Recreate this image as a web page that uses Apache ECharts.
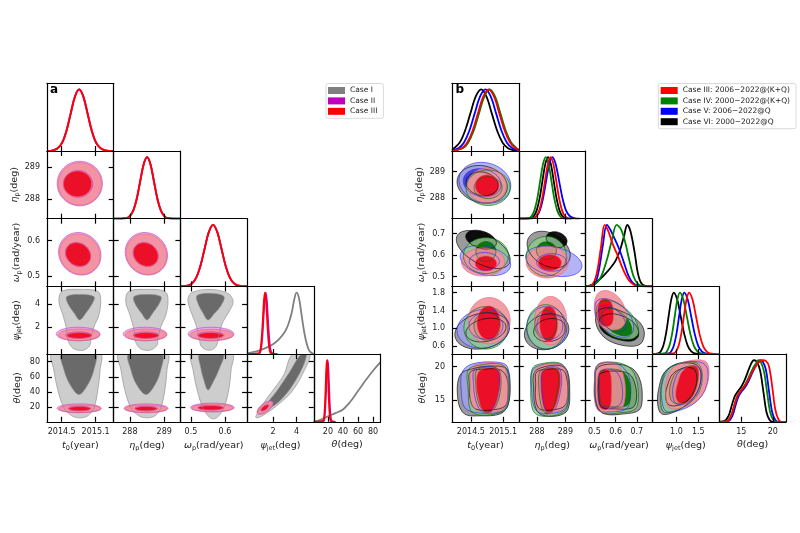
<!DOCTYPE html>
<html><head><meta charset="utf-8">
<script src="https://cdn.jsdelivr.net/npm/echarts@6/dist/echarts.min.js"></script>
<style>html,body{margin:0;padding:0;background:#fff}#c{width:800px;height:533px}</style>
</head><body><div id="c"></div>
<script>
// ---------------- names / ticks / ranges ----------------
const CASE_NAMES = {A1:'Case I',A2:'Case II',A3:'Case III',
  B3:'Case III: 2006\u22122022@(K+Q)',B4:'Case IV: 2000\u22122022@(K+Q)',B5:'Case V: 2006\u22122022@Q',B6:'Case VI: 2000\u22122022@Q'};
const TITLES = ['{m|t}{s|0}{n|(year)}','{m|\u03b7}{s|p}{n|(deg)}','{m|\u03c9}{s|p}{n|(rad/year)}','{m|\u03c8}{s|jet}{n|(deg)}','{m|\u03b8}{n|(deg)}'];

const A_X_RANGE = [[2014.24,2015.42],[287.53,289.47],[0.469,0.665],[-0.2,5.47],[1.2,90]];
const A_Y_RANGE = [null,[287.39,289.49],[0.471,0.662],[-0.3,5.5],[0.7,90]];
const A_X_TICKS = [[2014.5,2015.1],[288,289],[0.5,0.6],[2,4],[20,40,60,80]];
const A_Y_TICKS = [null,[288,289],[0.5,0.6],[2,4],[20,40,60,80]];
const A_DEC = [1,0,1,0,0];

const B_X_RANGE = [[2014.15,2015.39],[287.36,289.71],[0.458,0.774],[0.45,1.98],[11.5,22.1]];
const B_Y_RANGE = [null,[287.22,289.78],[0.455,0.769],[0.42,1.94],[11.7,21.9]];
const B_X_TICKS = [[2014.5,2015.1],[288,289],[0.5,0.6,0.7],[1.0,1.5],[15,20]];
const B_Y_TICKS = [null,[288,289],[0.5,0.6,0.7],[0.6,1.0,1.4,1.8],[15,20]];
const B_DEC = [1,0,1,1,0];

// ---------------- panel a : 1D marginals ----------------
const A_T0_I   = [[2014.24,0],[2014.345,0.011],[2014.425,0.044],[2014.505,0.135],[2014.58,0.325],[2014.655,0.607],[2014.73,0.882],[2014.805,1],[2014.88,0.882],[2014.955,0.607],[2015.03,0.325],[2015.105,0.135],[2015.185,0.044],[2015.265,0.011],[2015.42,0]];
const A_T0_II  = [[2014.24,0],[2014.35,0.011],[2014.43,0.045],[2014.51,0.137],[2014.585,0.33],[2014.66,0.61],[2014.735,0.885],[2014.81,1],[2014.885,0.88],[2014.96,0.6],[2015.035,0.32],[2015.11,0.133],[2015.19,0.043],[2015.27,0.011],[2015.42,0]];
const A_T0_III = [[2014.24,0],[2014.35,0.011],[2014.43,0.044],[2014.51,0.135],[2014.585,0.325],[2014.66,0.607],[2014.735,0.882],[2014.81,1],[2014.885,0.882],[2014.96,0.607],[2015.035,0.325],[2015.11,0.135],[2015.19,0.044],[2015.27,0.011],[2015.42,0]];
const A_ETA_I   = [[287.53,0],[287.905,0.011],[288.005,0.044],[288.105,0.135],[288.205,0.325],[288.305,0.607],[288.405,0.882],[288.505,1],[288.605,0.882],[288.705,0.607],[288.805,0.325],[288.905,0.135],[289.005,0.044],[289.105,0.011],[289.47,0]];
const A_ETA_II  = [[287.53,0],[287.9,0.011],[288.0,0.045],[288.1,0.137],[288.2,0.33],[288.3,0.61],[288.4,0.885],[288.5,1],[288.6,0.88],[288.7,0.6],[288.8,0.32],[288.9,0.133],[289.0,0.043],[289.1,0.011],[289.47,0]];
const A_ETA_III = [[287.53,0],[287.9,0.011],[288.0,0.044],[288.1,0.135],[288.2,0.325],[288.3,0.607],[288.4,0.882],[288.5,1],[288.6,0.882],[288.7,0.607],[288.8,0.325],[288.9,0.135],[289.0,0.044],[289.1,0.011],[289.47,0]];
const A_OM_I   = [[0.469,0],[0.49,0.011],[0.5025,0.044],[0.515,0.135],[0.5275,0.325],[0.54,0.607],[0.5525,0.882],[0.565,1],[0.5775,0.882],[0.59,0.607],[0.6025,0.325],[0.615,0.135],[0.6275,0.044],[0.64,0.011],[0.665,0]];
const A_OM_II  = [[0.469,0],[0.49,0.011],[0.5025,0.045],[0.515,0.137],[0.5275,0.33],[0.54,0.61],[0.5525,0.885],[0.565,1],[0.5775,0.88],[0.59,0.6],[0.6025,0.32],[0.615,0.133],[0.6275,0.043],[0.64,0.011],[0.665,0]];
const A_OM_III = [[0.469,0],[0.49,0.011],[0.5025,0.044],[0.515,0.135],[0.5275,0.325],[0.54,0.607],[0.5525,0.882],[0.565,1],[0.5775,0.882],[0.59,0.607],[0.6025,0.325],[0.615,0.135],[0.6275,0.044],[0.64,0.011],[0.665,0]];
const A_PSI_I   = [[-0.2,0.01],[0.5,0.04],[1.0,0.07],[1.5,0.11],[2.0,0.16],[2.5,0.24],[3.0,0.36],[3.3,0.48],[3.6,0.68],[3.8,0.88],[4.0,1.0],[4.2,0.92],[4.4,0.68],[4.6,0.42],[4.8,0.22],[5.0,0.09],[5.2,0.03],[5.47,0]];
const A_PSI_II  = [[-0.2,0],[0.84,0.011],[0.93,0.044],[1.02,0.135],[1.11,0.325],[1.2,0.607],[1.29,0.882],[1.38,1],[1.47,0.882],[1.56,0.607],[1.65,0.325],[1.74,0.135],[1.83,0.044],[1.92,0.011],[2.4,0]];
const A_PSI_III = [[-0.2,0],[0.81,0.011],[0.895,0.044],[0.98,0.135],[1.065,0.325],[1.15,0.607],[1.235,0.882],[1.32,1],[1.405,0.882],[1.49,0.607],[1.575,0.325],[1.66,0.135],[1.745,0.044],[1.83,0.011],[2.3,0]];
const A_TH_I   = [[1.2,0],[10,0.03],[20,0.09],[30,0.14],[40,0.2],[50,0.33],[60,0.5],[70,0.67],[80,0.83],[90,0.97]];
const A_TH_II  = [[1.2,0],[14.2,0.011],[15.1,0.044],[16.0,0.135],[16.9,0.325],[17.8,0.607],[18.7,0.882],[19.6,1],[20.5,0.882],[21.4,0.607],[22.3,0.325],[23.2,0.135],[24.1,0.044],[25.0,0.011],[30,0]];
const A_TH_III = [[1.2,0],[13.7,0.011],[14.55,0.044],[15.4,0.135],[16.25,0.325],[17.1,0.607],[17.95,0.882],[18.8,1],[19.65,0.882],[20.5,0.607],[21.35,0.325],[22.2,0.135],[23.05,0.044],[23.9,0.011],[30,0]];

// ---------------- panel b : 1D marginals ----------------
const B_T0_VI  = [[2014.15,0.02],[2014.29,0.135],[2014.39,0.325],[2014.49,0.607],[2014.59,0.882],[2014.69,1],[2014.79,0.882],[2014.89,0.607],[2014.99,0.325],[2015.09,0.135],[2015.19,0.044],[2015.29,0.011],[2015.39,0]];
const B_T0_V   = [[2014.15,0.01],[2014.27,0.044],[2014.37,0.135],[2014.47,0.325],[2014.57,0.607],[2014.67,0.882],[2014.77,1],[2014.87,0.882],[2014.97,0.607],[2015.07,0.325],[2015.17,0.135],[2015.27,0.044],[2015.39,0.005]];
const B_T0_IV  = [[2014.15,0],[2014.35,0.044],[2014.45,0.135],[2014.55,0.325],[2014.65,0.607],[2014.75,0.882],[2014.85,1],[2014.95,0.882],[2015.05,0.607],[2015.15,0.325],[2015.25,0.135],[2015.35,0.044],[2015.39,0.02]];
const B_T0_III = [[2014.15,0],[2014.33,0.044],[2014.43,0.135],[2014.53,0.325],[2014.63,0.607],[2014.73,0.882],[2014.83,1],[2014.93,0.882],[2015.03,0.607],[2015.13,0.325],[2015.23,0.135],[2015.33,0.044],[2015.39,0.015]];
const B_ETA_VI  = [[287.36,0],[287.79,0.011],[287.89,0.044],[287.99,0.135],[288.09,0.325],[288.19,0.607],[288.29,0.882],[288.39,1],[288.49,0.882],[288.59,0.607],[288.69,0.325],[288.79,0.135],[288.89,0.044],[288.99,0.011],[289.2,0]];
const B_ETA_V   = [[287.36,0],[287.88,0.011],[287.99,0.044],[288.1,0.135],[288.21,0.325],[288.32,0.607],[288.43,0.882],[288.54,1],[288.66,0.882],[288.78,0.607],[288.9,0.325],[289.02,0.135],[289.15,0.044],[289.3,0.011],[289.5,0]];
const B_ETA_IV  = [[287.36,0],[287.71,0.011],[287.81,0.044],[287.91,0.135],[288.01,0.325],[288.11,0.607],[288.21,0.882],[288.31,1],[288.41,0.882],[288.51,0.607],[288.61,0.325],[288.71,0.135],[288.81,0.044],[288.91,0.011],[289.1,0]];
const B_ETA_III = [[287.36,0],[287.88,0.011],[287.98,0.044],[288.08,0.135],[288.18,0.325],[288.28,0.607],[288.38,0.882],[288.48,1],[288.58,0.882],[288.68,0.607],[288.78,0.325],[288.88,0.135],[288.98,0.044],[289.08,0.011],[289.3,0]];
const B_OM_VI  = [[0.458,0],[0.49,0.03],[0.52,0.1],[0.55,0.2],[0.58,0.32],[0.60,0.42],[0.62,0.58],[0.64,0.82],[0.655,1.0],[0.67,0.9],[0.69,0.55],[0.705,0.22],[0.72,0.06],[0.74,0.01],[0.774,0]];
const B_OM_V   = [[0.458,0],[0.5,0.04],[0.52,0.25],[0.54,0.68],[0.558,1.0],[0.575,0.92],[0.6,0.74],[0.62,0.58],[0.64,0.38],[0.66,0.18],[0.68,0.06],[0.71,0.01],[0.774,0]];
const B_OM_IV  = [[0.458,0],[0.5,0.03],[0.53,0.15],[0.56,0.45],[0.58,0.72],[0.605,1.0],[0.625,0.93],[0.645,0.72],[0.665,0.42],[0.685,0.16],[0.705,0.04],[0.73,0.005],[0.774,0]];
const B_OM_III = [[0.458,0],[0.49,0.03],[0.51,0.2],[0.53,0.62],[0.548,1.0],[0.565,0.9],[0.585,0.7],[0.61,0.5],[0.63,0.32],[0.65,0.17],[0.67,0.07],[0.70,0.01],[0.774,0]];
const B_PSI_VI  = [[0.45,0],[0.58,0.011],[0.64,0.044],[0.7,0.135],[0.76,0.325],[0.82,0.607],[0.88,0.882],[0.94,1],[1.02,0.882],[1.1,0.607],[1.18,0.325],[1.26,0.135],[1.34,0.044],[1.42,0.011],[1.6,0]];
const B_PSI_V   = [[0.45,0],[0.82,0.011],[0.88,0.044],[0.94,0.135],[1.0,0.325],[1.06,0.607],[1.12,0.882],[1.18,1],[1.26,0.882],[1.34,0.607],[1.42,0.325],[1.5,0.135],[1.58,0.044],[1.66,0.011],[1.85,0]];
const B_PSI_IV  = [[0.45,0],[0.72,0.011],[0.78,0.044],[0.84,0.135],[0.9,0.325],[0.96,0.607],[1.02,0.882],[1.08,1],[1.16,0.882],[1.24,0.607],[1.32,0.325],[1.4,0.135],[1.48,0.044],[1.56,0.011],[1.75,0]];
const B_PSI_III = [[0.45,0],[0.93,0.011],[0.99,0.044],[1.05,0.135],[1.11,0.325],[1.17,0.607],[1.23,0.882],[1.29,1],[1.37,0.882],[1.45,0.607],[1.53,0.325],[1.61,0.135],[1.69,0.044],[1.77,0.011],[1.98,0]];
const B_TH_VI  = [[11.5,0],[12.3,0.01],[13,0.1],[13.5,0.27],[14,0.42],[14.5,0.5],[15,0.57],[15.5,0.67],[16,0.8],[16.5,0.93],[17,1.0],[17.5,0.97],[18,0.83],[18.5,0.5],[19,0.16],[19.5,0.03],[20,0],[22.1,0]];
const B_TH_V   = [[11.5,0],[12.9,0.01],[13.6,0.1],[14.1,0.27],[14.6,0.42],[15.1,0.5],[15.6,0.56],[16.1,0.65],[16.6,0.76],[17.1,0.87],[17.6,0.95],[18.0,1.0],[18.4,0.98],[18.9,0.85],[19.4,0.5],[19.9,0.16],[20.4,0.03],[20.9,0],[22.1,0]];
const B_TH_IV  = [[11.5,0],[12.7,0.01],[13.4,0.1],[13.9,0.27],[14.4,0.42],[14.9,0.5],[15.4,0.57],[15.9,0.66],[16.4,0.77],[16.9,0.88],[17.4,0.96],[17.7,1.0],[18.1,0.97],[18.6,0.82],[19.1,0.48],[19.6,0.15],[20.1,0.03],[20.6,0],[22.1,0]];
const B_TH_III = [[11.5,0],[12.8,0.01],[13.4,0.1],[13.9,0.27],[14.4,0.42],[14.9,0.5],[15.4,0.56],[15.9,0.64],[16.4,0.74],[16.9,0.84],[17.4,0.92],[17.9,0.98],[18.4,1.0],[18.9,0.99],[19.4,0.9],[19.9,0.58],[20.4,0.2],[20.9,0.04],[21.4,0],[22.1,0]];

// ---------------- panel a : 2D credible regions ----------------
// [case, level(2=outer,1=inner), 'e', cx, cy, ax, ay, bx, by]  or  [case, level, 'p', points]
const A_ETA_T0 = [
  ['A2',2,'e',2014.82,288.48,0.40,0,0,0.69],['A2',1,'e',2014.79,288.47,0.26,0,0,0.42],
  ['A3',2,'e',2014.82,288.47,0.383,0,0,0.66],['A3',1,'e',2014.78,288.47,0.25,0,0,0.40]];
const A_OM_T0 = [
  ['A2',2,'e',2014.82,0.563,0.375,-0.003,-0.012,0.06],['A2',1,'e',2014.79,0.561,0.225,-0.004,-0.008,0.034],
  ['A3',2,'e',2014.82,0.562,0.358,-0.003,-0.012,0.057],['A3',1,'e',2014.79,0.561,0.22,-0.004,-0.008,0.033]];
const A_OM_ETA = [
  ['A2',2,'e',288.48,0.563,0.615,-0.003,-0.02,0.06],['A2',1,'e',288.46,0.561,0.37,-0.004,-0.012,0.034],
  ['A3',2,'e',288.48,0.562,0.59,-0.003,-0.02,0.057],['A3',1,'e',288.46,0.561,0.36,-0.004,-0.012,0.033]];
const A_PSI_T0 = [
  ['A1',2,'p',[[2014.505,5.07],[2014.82,5.24],[2015.14,5.07],[2015.19,4.37],[2015.16,3.07],[2015.07,2.03],[2015.02,1.16],[2015.0,0.46],[2014.88,0.03],[2014.70,0.2],[2014.61,0.9],[2014.59,1.77],[2014.52,3.07],[2014.45,4.2]]],
  ['A1',1,'p',[[2014.59,4.63],[2014.82,4.81],[2015.07,4.63],[2015.05,4.11],[2014.93,3.24],[2014.82,2.63],[2014.73,3.16],[2014.61,4.03]]],
  ['A2',2,'e',2014.79,1.42,0.385,0,0,0.58],['A2',1,'e',2014.80,1.33,0.23,0,0,0.28],
  ['A3',2,'e',2014.81,1.35,0.367,0,0,0.5],['A3',1,'e',2014.81,1.29,0.22,0,0,0.25]];
const A_PSI_ETA = [
  ['A1',2,'p',[[287.97,5.07],[288.5,5.24],[289.02,5.07],[289.11,4.37],[289.05,3.07],[288.90,2.03],[288.82,1.16],[288.79,0.46],[288.58,0.03],[288.29,0.2],[288.15,0.9],[288.12,1.77],[288.0,3.07],[287.88,4.2]]],
  ['A1',1,'p',[[288.12,4.63],[288.5,4.81],[288.9,4.63],[288.87,4.11],[288.67,3.24],[288.5,2.63],[288.35,3.16],[288.15,4.03]]],
  ['A2',2,'e',288.44,1.42,0.63,0,0,0.58],['A2',1,'e',288.47,1.33,0.37,0,0,0.28],
  ['A3',2,'e',288.47,1.35,0.606,0,0,0.5],['A3',1,'e',288.47,1.29,0.364,0,0,0.25]];
const A_PSI_OM = [
  ['A1',2,'p',[[0.503,4.98],[0.556,5.24],[0.609,4.9],[0.624,4.2],[0.612,3.33],[0.594,2.46],[0.582,1.33],[0.574,0.37],[0.556,0.03],[0.532,0.29],[0.524,1.07],[0.515,2.2],[0.5,3.33],[0.491,4.37]]],
  ['A1',1,'p',[[0.518,4.72],[0.562,4.9],[0.597,4.63],[0.588,3.85],[0.568,3.16],[0.55,2.63],[0.535,3.24],[0.521,4.03]]],
  ['A2',2,'e',0.559,1.42,0.067,0,0,0.58],['A2',1,'e',0.558,1.33,0.039,0,0,0.28],
  ['A3',2,'e',0.561,1.35,0.064,0,0,0.47],['A3',1,'e',0.558,1.29,0.037,0,0,0.25]];
const A_TH_T0 = [
  ['A1',2,'p',[[2014.33,90],[2014.36,69.4],[2014.43,43.1],[2014.54,19.1],[2014.68,8.6],[2014.82,5.9],[2014.96,8.6],[2015.07,19.1],[2015.14,43.1],[2015.18,69.4],[2015.18,90]]],
  ['A1',1,'p',[[2014.505,90],[2014.54,69.4],[2014.65,49.6],[2014.805,36.8],[2014.96,49.6],[2015.07,69.4],[2015.09,90]]],
  ['A2',2,'e',2014.81,18.5,0.39,0,0,5.8],['A2',1,'e',2014.81,18.3,0.2,0,0,3.2],
  ['A3',2,'e',2014.82,18.0,0.367,0,0,5.0],['A3',1,'e',2014.82,18.0,0.19,0,0,2.9]];
const A_TH_ETA = [
  ['A1',2,'p',[[287.68,90],[287.74,69.4],[287.85,43.1],[288.03,19.1],[288.26,8.6],[288.5,5.9],[288.73,8.6],[288.9,19.1],[289.02,43.1],[289.08,69.4],[289.09,90]]],
  ['A1',1,'p',[[287.97,90],[288.03,69.4],[288.2,49.6],[288.47,36.8],[288.73,49.6],[288.9,69.4],[288.93,90]]],
  ['A2',2,'e',288.47,18.5,0.64,0,0,5.8],['A2',1,'e',288.47,18.3,0.33,0,0,3.2],
  ['A3',2,'e',288.47,18.0,0.606,0,0,5.0],['A3',1,'e',288.47,18.0,0.315,0,0,2.9]];
const A_TH_OM = [
  ['A1',2,'p',[[0.502,90],[0.506,69.4],[0.518,43.1],[0.535,19.1],[0.55,8.6],[0.565,4.6],[0.582,8.6],[0.6,23.0],[0.612,45.4],[0.618,69.4],[0.621,90]]],
  ['A1',1,'p',[[0.526,90],[0.529,71.7],[0.538,55.9],[0.55,42.8],[0.565,53.3],[0.582,69.4],[0.594,90]]],
  ['A2',2,'e',0.563,19.5,0.064,0,0,5.8],['A2',1,'e',0.558,19.3,0.038,0,0,3.2],
  ['A3',2,'e',0.563,19.1,0.061,0,0,5.0],['A3',1,'e',0.558,19.1,0.037,0,0,2.9]];
const A_TH_PSI = [
  ['A1',2,'p',[[0.53,7.2],[1.04,21.7],[1.89,40.1],[2.91,62.5],[3.67,90],[5.11,90],[4.6,66.4],[3.58,40.1],[2.4,23.0],[1.38,11.2],[0.70,5.9]]],
  ['A1',1,'p',[[1.55,24.3],[2.40,42.8],[3.42,66.4],[4.26,87.5],[4.69,90],[4.86,90],[4.60,75.7],[3.84,53.3],[2.91,33.6],[1.89,20.4]]],
  ['A2',2,'e',1.33,19.5,0.64,7.6,0.22,-4.3],['A2',1,'e',1.32,19.2,0.32,3.8,0.11,-2.1],
  ['A3',2,'e',1.3,19,0.59,7.2,0.21,-4.1],['A3',1,'e',1.3,19,0.3,3.6,0.1,-2.0]];

// ---------------- panel b : 2D credible regions ----------------
const B_ETA_T0 = [
  ['B6',2,'e',2014.71,288.52,0.465,-0.05,-0.03,0.71],['B6',1,'e',2014.71,288.54,0.30,-0.03,-0.02,0.45],
  ['B5',2,'e',2014.76,288.58,0.48,-0.06,-0.03,0.77],['B5',1,'e',2014.71,288.58,0.35,-0.04,-0.02,0.53],
  ['B4',2,'e',2014.82,288.39,0.41,0,0,0.67],['B4',1,'e',2014.82,288.39,0.26,0,0,0.41],
  ['B3',2,'e',2014.80,288.47,0.36,0,0,0.66],['B3',1,'e',2014.80,288.47,0.22,0,0,0.41]];
const B_OM_T0 = [
  ['B6',2,'e',2014.73,0.626,0.483,-0.0645,-0.13,-0.06],['B6',1,'e',2014.69,0.672,0.279,-0.023,-0.056,-0.037],
  ['B5',2,'e',2014.77,0.575,0.465,-0.0276,-0.056,-0.0645],['B5',1,'e',2014.75,0.571,0.279,0,0,0.041],
  ['B4',2,'e',2014.78,0.598,0.418,0,0,0.083],['B4',1,'e',2014.78,0.617,0.186,0,0,0.046],
  ['B3',2,'e',2014.73,0.568,0.403,0,0,0.065],['B3',1,'e',2014.78,0.561,0.2,0,0,0.035]];
const B_OM_ETA = [
  ['B6',2,'e',288.41,0.626,0.704,-0.055,-0.282,-0.0645],['B6',1,'e',288.69,0.672,0.352,-0.018,-0.106,-0.032],
  ['B5',2,'e',288.59,0.571,0.986,-0.028,-0.106,-0.0645],['B5',1,'e',288.52,0.566,0.53,0,0,0.041],
  ['B4',2,'e',288.33,0.595,0.704,0,0,0.092],['B4',1,'e',288.33,0.621,0.352,0,0,0.041],
  ['B3',2,'e',288.36,0.568,0.74,0,0,0.074],['B3',1,'e',288.45,0.565,0.41,0,0,0.038]];
const B_PSI_T0 = [
  ['B6',2,'e',2014.71,0.94,0.502,0.136,0.074,-0.386],['B6',1,'e',2014.78,0.96,0.372,0.091,0.037,-0.25],
  ['B5',2,'e',2014.73,0.99,0.483,0.068,0.037,-0.43],['B5',1,'e',2014.78,1.05,0.316,0,0,0.295],
  ['B4',2,'e',2014.78,1.01,0.409,0,0,0.477],['B4',1,'e',2014.80,1.05,0.242,0,0,0.318],
  ['B3',2,'e',2014.84,1.17,0.39,0,0,0.52],['B3',1,'e',2014.83,1.12,0.217,0,0,0.38]];
const B_PSI_ETA = [
  ['B6',2,'e',288.34,0.92,0.775,0.114,0.106,-0.386],['B6',1,'e',288.45,0.96,0.563,0.068,0.07,-0.25],
  ['B5',2,'e',288.34,1.01,0.704,0,0,0.477],['B5',1,'e',288.45,1.05,0.458,0,0,0.295],
  ['B4',2,'e',288.31,1.03,0.669,0,0,0.5],['B4',1,'e',288.31,1.08,0.387,0,0,0.318],
  ['B3',2,'e',288.48,1.17,0.563,0,0,0.545],['B3',1,'e',288.41,1.10,0.317,0,0,0.398]];
const B_PSI_OM = [
  ['B6',2,'p',[[0.514,1.373],[0.561,1.464],[0.642,1.35],[0.712,1.145],[0.736,0.895],[0.717,0.645],[0.656,0.6],[0.571,0.714],[0.524,0.918],[0.505,1.168]]],
  ['B6',1,'p',[[0.528,1.236],[0.58,1.327],[0.651,1.236],[0.698,1.055],[0.708,0.827],[0.675,0.714],[0.604,0.759],[0.547,0.895],[0.524,1.055]]],
  ['B5',2,'p',[[0.509,1.6],[0.552,1.668],[0.618,1.532],[0.67,1.282],[0.684,0.964],[0.656,0.805],[0.59,0.85],[0.533,1.055],[0.505,1.327]]],
  ['B5',1,'p',[[0.524,1.464],[0.561,1.509],[0.608,1.395],[0.642,1.191],[0.646,0.986],[0.613,0.918],[0.561,1.009],[0.528,1.191]]],
  ['B4',2,'p',[[0.519,1.555],[0.571,1.623],[0.642,1.464],[0.693,1.191],[0.708,0.895],[0.675,0.759],[0.594,0.805],[0.538,1.009],[0.509,1.305]]],
  ['B4',1,'p',[[0.542,1.395],[0.585,1.441],[0.637,1.305],[0.67,1.1],[0.675,0.895],[0.642,0.827],[0.585,0.918],[0.547,1.1],[0.533,1.259]]],
  ['B3',2,'p',[[0.509,1.736],[0.547,1.85],[0.599,1.759],[0.637,1.532],[0.651,1.236],[0.627,1.009],[0.571,0.964],[0.524,1.077],[0.5,1.373]]],
  ['B3',1,'p',[[0.524,1.6],[0.552,1.668],[0.58,1.577],[0.59,1.35],[0.585,1.123],[0.561,1.032],[0.528,1.1],[0.514,1.327]]]];
const B_TH_T0 = [
  ['B6',2,'p',[[2014.30,18.75],[2014.58,19.8],[2014.95,20.1],[2015.17,19.65],[2015.23,17.25],[2015.19,14.25],[2015.05,12.9],[2014.67,12.6],[2014.38,12.9],[2014.26,15.0]]],
  ['B6',1,'p',[[2014.49,19.2],[2014.77,19.65],[2015.05,19.5],[2015.17,18.3],[2015.19,15.75],[2015.14,14.1],[2014.90,13.5],[2014.58,13.65],[2014.49,15.0],[2014.47,17.25]]],
  ['B5',2,'p',[[2014.34,19.2],[2014.52,20.4],[2014.95,20.7],[2015.17,20.1],[2015.21,17.25],[2015.17,14.25],[2015.05,13.2],[2014.64,13.05],[2014.39,13.8],[2014.32,16.5]]],
  ['B5',1,'p',[[2014.56,19.5],[2014.75,20.0],[2014.97,19.8],[2015.03,18.3],[2015.0,15.5],[2014.9,13.6],[2014.78,13.0],[2014.66,13.6],[2014.58,15.3],[2014.55,17.3]]],
  ['B4',2,'p',[[2014.45,19.5],[2014.67,20.25],[2015.05,20.4],[2015.17,19.5],[2015.21,16.5],[2015.17,13.8],[2014.95,12.9],[2014.64,12.75],[2014.49,13.5],[2014.45,16.5]]],
  ['B4',1,'p',[[2014.6,19.4],[2014.78,19.9],[2015.0,19.7],[2015.06,18.2],[2015.03,15.6],[2014.94,13.7],[2014.82,13.1],[2014.7,13.6],[2014.62,15.3],[2014.59,17.3]]],
  ['B3',2,'p',[[2014.51,19.8],[2014.71,20.55],[2015.05,20.4],[2015.16,19.2],[2015.19,16.2],[2015.14,13.95],[2014.95,13.2],[2014.64,13.35],[2014.51,14.4],[2014.49,17.25]]],
  ['B3',1,'p',[[2014.64,19.2],[2014.78,19.8],[2014.99,19.65],[2015.05,18.3],[2015.01,15.75],[2014.93,13.8],[2014.82,12.9],[2014.71,13.5],[2014.64,15.3],[2014.60,17.25]]]];
const B_TH_ETA = [
  ['B6',2,'p',[[287.919,19.2],[288.377,20.1],[288.87,20.1],[289.081,19.2],[289.151,16.5],[289.081,13.5],[288.729,12.6],[288.165,12.75],[287.954,13.8],[287.884,16.5]]],
  ['B6',1,'p',[[287.989,19.2],[288.447,19.65],[288.905,19.5],[289.046,18.3],[289.081,15.75],[288.975,14.1],[288.553,13.5],[288.095,13.65],[287.954,15.0],[287.954,17.25]]],
  ['B5',2,'p',[[287.849,19.5],[288.271,20.4],[288.799,20.4],[289.046,19.2],[289.116,16.2],[289.011,13.8],[288.658,13.05],[288.095,13.05],[287.884,14.1],[287.813,16.8]]],
  ['B5',1,'p',[[288.2,19.35],[288.447,19.95],[288.764,19.8],[288.87,18.3],[288.799,15.75],[288.658,13.8],[288.482,13.05],[288.306,13.5],[288.2,15.3],[288.165,17.25]]],
  ['B4',2,'p',[[287.849,19.8],[288.271,20.55],[288.799,20.55],[289.046,19.5],[289.116,16.5],[289.046,13.8],[288.694,12.75],[288.095,12.6],[287.849,13.5],[287.778,16.5]]],
  ['B4',1,'p',[[288.095,19.2],[288.342,19.8],[288.658,19.65],[288.764,18.3],[288.694,15.75],[288.553,13.8],[288.377,12.9],[288.2,13.5],[288.095,15.3],[288.06,17.25]]],
  ['B3',2,'p',[[287.954,19.65],[288.342,20.4],[288.835,20.25],[289.046,19.2],[289.081,16.2],[288.975,13.95],[288.658,13.2],[288.13,13.35],[287.954,14.4],[287.919,17.1]]],
  ['B3',1,'p',[[288.165,19.2],[288.412,19.8],[288.729,19.65],[288.835,18.3],[288.764,15.75],[288.623,13.8],[288.447,12.9],[288.271,13.5],[288.165,15.3],[288.13,17.25]]]];
const B_TH_OM = [
  ['B6',2,'p',[[0.514,19.8],[0.594,20.4],[0.675,19.8],[0.712,18.3],[0.726,15.75],[0.712,13.5],[0.642,12.9],[0.547,12.9],[0.509,14.25],[0.5,17.25]]],
  ['B6',1,'p',[[0.524,18.9],[0.594,19.35],[0.665,18.9],[0.693,17.25],[0.698,15.0],[0.679,13.8],[0.594,13.65],[0.533,13.95],[0.519,15.75],[0.519,17.7]]],
  ['B5',2,'p',[[0.509,20.1],[0.561,20.7],[0.627,20.1],[0.665,18.3],[0.67,15.6],[0.651,13.65],[0.58,13.2],[0.524,13.35],[0.505,15.0],[0.5,17.7]]],
  ['B5',1,'p',[[0.524,19.2],[0.561,19.65],[0.604,19.2],[0.627,17.7],[0.632,15.3],[0.613,14.1],[0.561,13.8],[0.528,14.25],[0.519,15.75],[0.519,17.7]]],
  ['B4',2,'p',[[0.514,20.1],[0.58,20.7],[0.656,20.1],[0.693,18.6],[0.708,15.75],[0.693,13.65],[0.618,13.05],[0.538,13.05],[0.509,14.55],[0.505,17.55]]],
  ['B4',1,'p',[[0.528,19.2],[0.58,19.65],[0.637,19.2],[0.665,17.7],[0.67,15.3],[0.651,14.1],[0.58,13.95],[0.538,14.25],[0.524,15.75],[0.524,17.7]]],
  ['B3',2,'p',[[0.514,20.25],[0.557,20.7],[0.608,20.25],[0.637,18.75],[0.646,15.75],[0.627,13.65],[0.571,13.2],[0.519,13.35],[0.5,15.0],[0.5,18.0]]],
  ['B3',1,'p',[[0.524,19.2],[0.547,19.65],[0.571,19.35],[0.58,18.0],[0.58,15.3],[0.571,13.8],[0.547,13.5],[0.524,13.95],[0.514,15.75],[0.514,17.7]]]];
const B_TH_PSI = [
  ['B6',2,'p',[[0.613,17.25],[0.729,19.2],[1.03,20.4],[1.424,20.4],[1.563,19.2],[1.516,16.8],[1.308,14.7],[0.961,13.2],[0.66,12.9],[0.567,14.7]]],
  ['B6',1,'p',[[0.799,17.25],[0.914,18.9],[1.169,19.8],[1.4,19.65],[1.47,18.3],[1.4,16.2],[1.215,14.7],[0.961,14.1],[0.799,14.4],[0.752,15.75]]],
  ['B5',2,'p',[[0.683,17.7],[0.845,19.8],[1.192,20.7],[1.609,20.55],[1.725,19.2],[1.655,16.5],[1.424,14.55],[1.03,13.35],[0.752,13.35],[0.66,15.3]]],
  ['B5',1,'p',[[0.938,17.4],[1.053,19.2],[1.285,20.1],[1.493,19.95],[1.563,18.75],[1.493,16.35],[1.308,14.85],[1.1,14.25],[0.961,14.7],[0.914,16.05]]],
  ['B4',2,'p',[[0.66,17.4],[0.775,19.5],[1.076,20.55],[1.47,20.55],[1.586,19.2],[1.539,16.5],[1.308,14.55],[0.961,13.35],[0.706,13.2],[0.637,15.0]]],
  ['B4',1,'p',[[0.868,17.4],[0.984,19.05],[1.215,19.95],[1.4,19.8],[1.47,18.6],[1.4,16.35],[1.215,14.85],[1.03,14.4],[0.891,14.85],[0.845,16.05]]],
  ['B3',2,'p',[[0.775,18.0],[0.914,19.8],[1.262,20.85],[1.655,20.85],[1.748,19.5],[1.678,16.8],[1.47,14.85],[1.123,13.8],[0.845,13.8],[0.752,15.75]]],
  ['B3',1,'p',[[1.03,17.55],[1.123,19.2],[1.308,20.1],[1.47,19.95],[1.516,18.75],[1.447,16.5],[1.285,14.85],[1.123,14.4],[1.007,15.0],[0.984,16.2]]]];

// ---------------- assembly ----------------
const A_DIAG = [
  [['A1',A_T0_I],['A2',A_T0_II],['A3',A_T0_III]],
  [['A1',A_ETA_I],['A2',A_ETA_II],['A3',A_ETA_III]],
  [['A1',A_OM_I],['A2',A_OM_II],['A3',A_OM_III]],
  [['A1',A_PSI_I],['A2',A_PSI_II],['A3',A_PSI_III]],
  [['A1',A_TH_I],['A2',A_TH_II],['A3',A_TH_III]]];
const B_DIAG = [
  [['B6',B_T0_VI],['B5',B_T0_V],['B4',B_T0_IV],['B3',B_T0_III]],
  [['B6',B_ETA_VI],['B5',B_ETA_V],['B4',B_ETA_IV],['B3',B_ETA_III]],
  [['B6',B_OM_VI],['B5',B_OM_V],['B4',B_OM_IV],['B3',B_OM_III]],
  [['B6',B_PSI_VI],['B5',B_PSI_V],['B4',B_PSI_IV],['B3',B_PSI_III]],
  [['B6',B_TH_VI],['B5',B_TH_V],['B4',B_TH_IV],['B3',B_TH_III]]];
const A_CELLS = {'1-0':A_ETA_T0,'2-0':A_OM_T0,'2-1':A_OM_ETA,'3-0':A_PSI_T0,'3-1':A_PSI_ETA,'3-2':A_PSI_OM,'4-0':A_TH_T0,'4-1':A_TH_ETA,'4-2':A_TH_OM,'4-3':A_TH_PSI};
const B_CELLS = {'1-0':B_ETA_T0,'2-0':B_OM_T0,'2-1':B_OM_ETA,'3-0':B_PSI_T0,'3-1':B_PSI_ETA,'3-2':B_PSI_OM,'4-0':B_TH_T0,'4-1':B_TH_ETA,'4-2':B_TH_OM,'4-3':B_TH_PSI};

// ---------------- styles & layout ----------------
const STY = {
  A1:{line:'#808080', f2:'rgba(196,196,196,0.85)', f1:'rgba(100,100,100,0.95)', e:'#8c8c8c'},
  A2:{line:'#bf00bf', f2:'rgba(231,167,231,0.85)', f1:'rgba(190,0,190,0.95)', e:'#c040c8'},
  A3:{line:'#ff0000', f2:'rgba(244,143,155,0.88)', f1:'rgba(235,10,35,0.96)', e:'#e8607a'},
  B6:{line:'#000000', f2:'rgba(137,137,137,0.85)', f1:'rgba(0,0,0,0.92)', e:'#000000'},
  B5:{line:'#0000ff', f2:'rgba(161,161,243,0.8)', f1:'rgba(60,60,225,0.9)', e:'#2a2aff'},
  B4:{line:'#008000', f2:'rgba(143,200,143,0.82)', f1:'rgba(0,115,0,0.92)', e:'#006a00'},
  B3:{line:'#ff0000', f2:'rgba(244,143,155,0.88)', f1:'rgba(235,10,35,0.96)', e:'#e8607a'}
};
const FONT = 'DejaVu Sans';
const ROWS_TOP = [83.3,151,218.7,286.4,354.1], CELL_H = 67.7;
const PANELS = [
  {cols:[47,113.7,180.4,247.1,313.8], w:66.7, xr:A_X_RANGE, yr:A_Y_RANGE, xt:A_X_TICKS, yt:A_Y_TICKS, dec:A_DEC, diag:A_DIAG, cells:A_CELLS},
  {cols:[452,518.8,585.6,652.4,719.2], w:66.8, xr:B_X_RANGE, yr:B_Y_RANGE, xt:B_X_TICKS, yt:B_Y_TICKS, dec:B_DEC, diag:B_DIAG, cells:B_CELLS}
];
const RICH = {
  m:{fontFamily:FONT, fontStyle:'italic', fontSize:9.5, color:'#222'},
  s:{fontFamily:FONT, fontSize:6.5, color:'#222', padding:[5,0,0,0]},
  n:{fontFamily:FONT, fontSize:9.5, color:'#222'}
};

const option = {animation:false, backgroundColor:'#fff', grid:[], xAxis:[], yAxis:[], series:[], legend:[], graphic:[]};

function makeAxis(dim, gi, range, ticks, pos, showLabel, dec, title) {
  const o = {type:'value', gridIndex:gi, min:range[0], max:range[1], position:pos, z:10,
    axisLine:{show:true, onZero:false, lineStyle:{color:'#000', width:1.2}},
    axisTick:{show:ticks.length>0, inside:true, length:5, customValues:ticks, lineStyle:{color:'#000', width:1.2}},
    axisLabel:{show:showLabel, customValues:ticks, formatter:(v)=>Number(v).toFixed(dec||0), fontSize:8, color:'#222', fontFamily:FONT, margin:dim==='x'?6:7},
    splitLine:{show:false}, axisPointer:{show:false}};
  if (title) {
    o.name = title; o.nameLocation = 'middle'; o.nameGap = dim==='x'?18:24;
    o.nameTextStyle = {rich:RICH};
    if (dim==='y') o.nameRotate = 90;
  }
  return o;
}

function ellipsePts(c, api) {
  const pts = [];
  for (let k = 0; k < 72; k++) {
    const t = k / 72 * Math.PI * 2, ct = Math.cos(t), st = Math.sin(t);
    pts.push(api.coord([c[3] + ct*c[5] + st*c[7], c[4] + ct*c[6] + st*c[8]]));
  }
  return pts;
}

function contourSeries(list, xi, yi, pass) {
  return {
    type:'custom', xAxisIndex:xi, yAxisIndex:yi, clip:true, silent:true, z:pass==='fill'?2:3,
    data:list.map(c => c[2]==='e' ? [c[3],c[4]] : c[3][0]),
    renderItem:(params, api) => {
      const c = list[params.dataIndex];
      const pts = c[2]==='e' ? ellipsePts(c, api) : c[3].map(p => api.coord(p));
      const s = STY[c[0]];
      return {type:'polygon', shape:{points:pts, smooth:c[2]==='p'?0.35:0},
        style: pass==='fill' ? {fill:c[1]===2?s.f2:s.f1, stroke:null, lineWidth:0}
                             : {fill:null, stroke:s.e, lineWidth:0.7, opacity:0.9}};
    }
  };
}

PANELS.forEach(P => {
  for (let r = 0; r < 5; r++) for (let c = 0; c <= r; c++) {
    const gi = option.grid.length;
    option.grid.push({left:P.cols[c], top:ROWS_TOP[r], width:P.w, height:CELL_H, containLabel:false, show:false});
    const diag = r===c;
    const xr = P.xr[c], yr = diag ? [0,1.1] : P.yr[r];
    const xt = P.xt[c], yt = diag ? [] : P.yt[r];
    const xb = option.xAxis.length;
    option.xAxis.push(makeAxis('x', gi, xr, xt, 'bottom', r===4, P.dec[c], r===4 ? TITLES[c] : null));
    option.xAxis.push(makeAxis('x', gi, xr, diag?[]:xt, 'top', false, 0, null));
    const yl = option.yAxis.length;
    const yLab = c===0 && !diag;
    option.yAxis.push(makeAxis('y', gi, yr, yt, 'left', yLab, P.dec[r], yLab ? TITLES[r] : null));
    option.yAxis.push(makeAxis('y', gi, yr, yt, 'right', false, 0, null));
    if (diag) {
      P.diag[c].forEach(([k, d]) => {
        option.series.push({type:'line', name:CASE_NAMES[k], xAxisIndex:xb, yAxisIndex:yl, data:d,
          smooth:0.35, showSymbol:false, symbol:'none', clip:true, silent:true, z:3,
          lineStyle:{color:STY[k].line, width:1.8}, itemStyle:{color:STY[k].line}});
      });
    } else {
      const list = P.cells[r+'-'+c];
      option.series.push(contourSeries(list, xb, yl, 'fill'));
      option.series.push(contourSeries(list, xb, yl, 'stroke'));
    }
  }
});

const LEG = {orient:'vertical', icon:'rect', itemWidth:17, itemHeight:7, itemGap:2.4, selectedMode:false,
  backgroundColor:'#fff', borderColor:'#cfcfcf', borderWidth:0.8, borderRadius:2,
  textStyle:{fontSize:7.5, color:'#222', fontFamily:FONT}};
option.legend.push(Object.assign({}, LEG, {data:['Case I','Case II','Case III'], left:326, top:83.5, padding:[3,6,3,2]}));
option.legend.push(Object.assign({}, LEG, {data:[CASE_NAMES.B3,CASE_NAMES.B4,CASE_NAMES.B5,CASE_NAMES.B6], left:658.3, top:83.5, padding:[3,6,3,2.4]}));

option.graphic.push({type:'text', left:50, top:84, z:20, style:{text:'a', font:'bold 12px "DejaVu Sans"', fill:'#000'}});
option.graphic.push({type:'text', left:455.5, top:84, z:20, style:{text:'b', font:'bold 12px "DejaVu Sans"', fill:'#000'}});

const chart = echarts.init(document.getElementById('c'), null, {renderer:'canvas'});
chart.setOption(option);
</script></body></html>
